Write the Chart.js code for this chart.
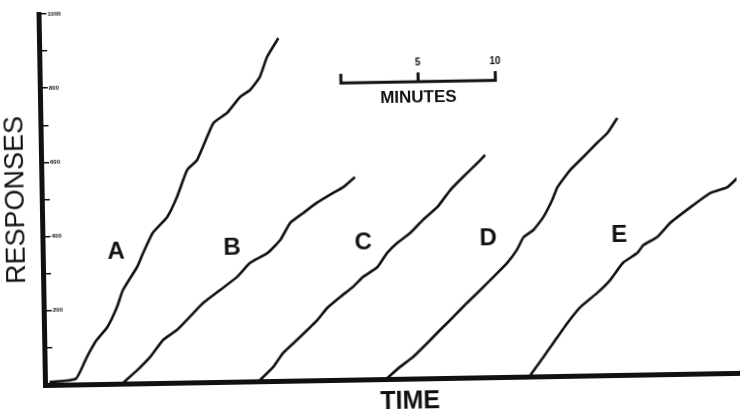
<!DOCTYPE html>
<html>
<head>
<meta charset="utf-8">
<script src="https://cdn.jsdelivr.net/npm/chart.js@4/dist/chart.umd.min.js"></script>
<style>
  html, body { margin: 0; padding: 0; background: #fff; overflow: hidden; width: 740px; height: 412px; }
  /* the original scan sits a little skewed, so the whole canvas is turned about the axis corner */
  #recordChart { position: absolute; left: 0; top: 0; transform-origin: 45px 385px; transform: rotate(-1deg); }
</style>
</head>
<body>
<canvas id="recordChart" width="760" height="430"></canvas>
<script>
// cumulative records, time in minutes / cumulative responses
const curveATime = [0.3, 2.0, 2.75, 3.4, 4.1, 4.75, 5.15, 6.1, 6.5, 7.15, 8.1, 8.75, 9.45, 10.1, 11.2, 12.1, 12.95, 13.6, 14.25, 14.75, 15.5];
const curveAResp = [8, 15, 74, 119, 153, 207, 252, 314, 351, 405, 447, 500, 573, 599, 698, 725, 767, 785, 820, 874, 924];

const curveBTime = [5.05, 6.0, 6.85, 7.7, 8.6, 9.45, 10.35, 11.45, 12.55, 13.4, 14.55, 15.4, 16.05, 16.9, 17.8, 18.65, 19.55, 20.3];
const curveBResp = [2, 36, 71, 116, 142, 177, 214, 248, 282, 319, 345, 380, 425, 451, 478, 499, 520, 546];

const curveCTime = [13.9, 14.8, 15.45, 16.35, 17.05, 17.7, 18.35, 19.2, 20.05, 20.7, 21.65, 22.3, 22.95, 23.8, 24.65, 25.6, 26.45, 27.3, 28.25, 28.75];
const curveCResp = [2, 38, 75, 109, 136, 162, 194, 223, 250, 276, 302, 340, 366, 392, 427, 461, 506, 541, 578, 599];

const curveDTime = [22.15, 23.0, 23.85, 24.8, 25.65, 26.5, 27.4, 28.3, 29.15, 30.05, 30.7, 31.15, 31.8, 32.45, 33.05, 33.4, 34.25, 35.1, 36.0, 36.7, 37.35];
const curveDResp = [2, 32, 58, 95, 130, 164, 201, 236, 270, 307, 342, 376, 395, 429, 475, 509, 555, 589, 626, 653, 693];

const curveETime = [31.4, 32.3, 32.95, 33.9, 34.75, 35.85, 36.7, 37.55, 38.5, 38.9, 39.8, 40.65, 42.0, 43.3, 44.4, 45.25];
const curveEResp = [2, 52, 89, 143, 185, 222, 256, 302, 328, 349, 370, 407, 449, 486, 501, 533];

const curveNames = ["A", "B", "C", "D", "E"];
const yLabelValues = [200, 400, 600, 800, 1000];

// the "MINUTES" scale bar: marks at 0, 5 and 10 min
const scaleBarMinutes = [0, 5, 10];
const scaleBarStart = 19.5;
const scaleBarLevel = 800;

const toPoints = (xs, ys) => xs.map((x, i) => ({ x: x, y: ys[i] }));

const curves = [
  toPoints(curveATime, curveAResp),
  toPoints(curveBTime, curveBResp),
  toPoints(curveCTime, curveCResp),
  toPoints(curveDTime, curveDResp),
  toPoints(curveETime, curveEResp),
];

// bar with little upright ticks at each mark
const barPoints = [];
scaleBarMinutes.forEach((m, i) => {
  const t = scaleBarStart + m;
  if (i > 0) barPoints.push({ x: t, y: scaleBarLevel });
  barPoints.push({ x: t, y: scaleBarLevel + 25 });
  barPoints.push({ x: t, y: scaleBarLevel });
});

const ink = "#111";

const textMarks = {
  id: "textMarks",
  afterDatasetsDraw(chart, args, opts) {
    const { ctx, scales } = chart;
    ctx.save();
    ctx.fillStyle = ink;
    ctx.textAlign = "center";
    ctx.textBaseline = "middle";
    opts.items.forEach(item => {
      ctx.font = item.font;
      ctx.fillText(item.text, scales.x.getPixelForValue(item.x), scales.y.getPixelForValue(item.y));
    });
    ctx.restore();
  }
};

const letterFont = 'bold 24px "Liberation Sans", Arial, sans-serif';
const letterAt = [[4.75, 355], [12.27, 360], [20.76, 368], [28.86, 375], [37.34, 377]];

new Chart(document.getElementById("recordChart"), {
  type: "line",
  data: {
    datasets: curves.map((pts, i) => ({
      label: curveNames[i],
      data: pts,
      borderColor: ink,
      borderWidth: 2.6,
      pointRadius: 0,
      fill: false,
      tension: 0.15,
    })).concat([{
      label: "scale",
      data: barPoints,
      borderColor: ink,
      borderWidth: 3,
      pointRadius: 0,
      fill: false,
      tension: 0,
    }])
  },
  options: {
    responsive: false,
    animation: false,
    layout: {
      padding: { top: 14, right: 20, bottom: 0, left: 0 }
    },
    scales: {
      x: {
        type: "linear",
        min: 0,
        max: 45,
        afterFit: (scale) => { scale.height = 45; },
        grid: { display: false },
        ticks: { display: false },
        border: { display: true, color: ink, width: 5 },
        title: {
          display: true,
          text: "     TIME",
          color: ink,
          font: { family: '"Liberation Sans", Arial, sans-serif', size: 25, weight: "bold" },
          padding: { top: 0, bottom: 7 }
        }
      },
      y: {
        min: 0,
        max: 1000,
        afterFit: (scale) => { scale.width = 45; },
        grid: {
          drawOnChartArea: false,
          drawTicks: true,
          tickLength: -8,
          color: ink,
          lineWidth: 1.5
        },
        border: { display: true, color: ink, width: 5 },
        ticks: {
          stepSize: 100,
          mirror: true,
          padding: 9,
          color: ink,
          font: { family: '"Liberation Sans", Arial, sans-serif', size: 6, weight: "bold" },
          callback: (v) => yLabelValues.includes(v) ? String(v) : ""
        },
        title: {
          display: true,
          text: "RESPONSES",
          color: ink,
          font: { family: '"Liberation Sans", Arial, sans-serif', size: 27 },
          padding: { top: 3, bottom: 0 }
        }
      }
    },
    plugins: {
      legend: { display: false },
      tooltip: { enabled: false },
      textMarks: {
        items: curveNames.map((n, i) => ({ text: n, x: letterAt[i][0], y: letterAt[i][1], font: letterFont })).concat([
          { text: "5", x: scaleBarStart + scaleBarMinutes[1], y: 850, font: 'bold 10px "Liberation Sans", Arial, sans-serif' },
          { text: "10", x: scaleBarStart + scaleBarMinutes[2], y: 850, font: 'bold 10px "Liberation Sans", Arial, sans-serif' },
          { text: "MINUTES", x: scaleBarStart + scaleBarMinutes[1], y: 756, font: 'bold 17px "Liberation Sans", Arial, sans-serif' }
        ])
      }
    }
  },
  plugins: [textMarks]
});
</script>
</body>
</html>
